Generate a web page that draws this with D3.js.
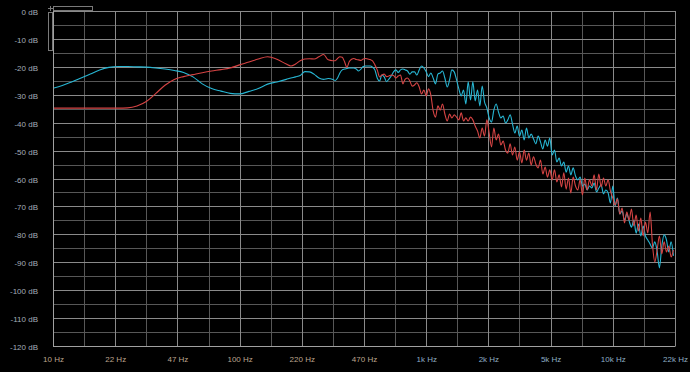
<!DOCTYPE html>
<html>
<head>
<meta charset="utf-8">
<script src="https://cdn.jsdelivr.net/npm/d3@7"></script>
<style>
  html, body { margin: 0; padding: 0; background: #000; }
  svg { display: block; }
  text { font-family: "Liberation Sans", Arial, sans-serif; font-size: 8px; }
</style>
</head>
<body>
<svg id="chart" width="690" height="372"></svg>
<script>
// frequency bins (Hz)
var freqs = [
  10, 11.22, 12.59, 14.13, 15.85, 17.78, 19.95, 22.39, 25.12, 28.18,
  31.62, 35.48, 39.81, 44.67, 50.12, 56.23, 63.10, 70.79, 79.43, 89.13,
  100, 112.2, 125.9, 141.3, 158.5, 177.8,
  188.4, 199.5, 211.3, 223.9, 237.1, 251.2, 266.1, 281.8, 298.5,
  316.2, 325.5, 335.0, 344.7, 354.8, 365.2, 375.8, 386.8, 398.1, 409.7,
  421.7, 434.0, 446.7, 459.7, 473.2, 487.0, 501.2, 515.8, 530.9, 546.4,
  562.3, 578.8, 595.7, 613.1, 631.0, 649.4, 668.3, 687.9, 707.9, 728.6,
  749.9, 771.8, 794.3, 817.5, 841.4, 866.0, 891.3, 917.3, 944.1, 971.6,
  1000, 1029, 1059, 1090, 1122, 1155, 1189, 1223, 1259, 1296,
  1334, 1372, 1413, 1454, 1496, 1540, 1585, 1631, 1679, 1728,
  1778, 1830, 1884, 1939, 1995, 2054, 2113, 2175, 2239, 2304,
  2371, 2441, 2512, 2585, 2661, 2738, 2818, 2901, 2985, 3073,
  3162, 3255, 3350, 3447, 3548, 3652, 3758, 3868, 3981, 4097,
  4217, 4340, 4467, 4597, 4732, 4870, 5012, 5158, 5309, 5464,
  5623, 5788, 5957, 6131, 6310, 6494, 6683, 6879, 7079, 7286,
  7499, 7718, 7943, 8175, 8414, 8660, 8913, 9173, 9441, 9716,
  10000, 10290, 10590, 10900, 11220, 11550, 11890, 12230, 12590, 12960,
  13340, 13720, 14130, 14540, 14960, 15400, 15850, 16310, 16790, 17280,
  17780, 18300, 18840, 19390, 19950, 20540, 21130
];

// red trace (dB)
var redDb = [
  -34.8, -34.8, -34.8, -34.8, -34.8, -34.8, -34.8, -34.8, -34.7, -34.0,
  -32.4, -29.6, -26.6, -24.5, -23.5, -22.8, -22.1, -21.5, -21.0, -20.4,
  -19.3, -18.3, -17.2, -16.4, -17.3, -19.0,
  -19.7, -19.0, -17.8, -17.2, -17.1, -17.2, -16.4, -15.6, -17.5,
  -17.8, -17.8, -17.0, -16.4, -16.6, -18.2, -20.2, -18.2, -17.3, -17.0,
  -17.4, -17.5, -17.7, -17.2, -17.0, -17.2, -17.4, -17.9, -19.3, -21.1,
  -23.6, -22.9, -22.6, -23.5, -23.3, -22.9, -23.1, -24.0, -23.3, -22.9,
  -26.1, -24.4, -24.0, -25.1, -26.9, -26.5, -25.7, -27.2, -29.7, -28.3,
  -30.4, -27.9, -30.1, -35.8, -38.0, -34.0, -35.5, -33.3, -36.9, -39.4,
  -36.9, -38.3, -37.2, -38.0, -39.0, -36.5, -39.4, -38.3, -39.4, -38.0,
  -39.0, -41.2, -43.0, -45.5, -41.9, -44.8, -39.0, -43.7, -48.7, -41.9,
  -46.2, -44.1, -48.0, -46.6, -49.8, -50.9, -47.6, -51.6, -48.7, -53.4,
  -50.5, -54.4, -49.8, -53.4, -50.9, -55.2, -52.2, -54.8, -56.2, -53.4,
  -58.4, -55.9, -59.5, -56.9, -60.5, -56.9, -61.2, -58.7, -63.0, -58.0,
  -63.8, -59.8, -65.2, -59.5, -62.7, -64.1, -60.5, -65.9, -59.8, -64.1,
  -60.5, -62.7, -58.7, -64.1, -58.4, -63.0, -59.8, -62.7, -60.5, -64.5,
  -67.0, -69.5, -67.3, -72.7, -70.6, -75.9, -72.0, -74.9, -70.9, -77.0,
  -73.1, -78.8, -74.2, -80.6, -75.6, -79.5, -72.0, -83.5, -89.9, -85.6,
  -80.6, -87.0, -82.7, -86.3, -84.2, -88.1, -85.6
];

// cyan trace (dB)
var cyanDb = [
  -27.7, -26.7, -25.4, -24.0, -22.6, -21.1, -20.2, -19.9, -19.9, -20.0,
  -20.1, -20.4, -20.8, -21.3, -22.0, -23.6, -26.1, -27.8, -28.7, -29.5,
  -29.7, -28.8, -27.8, -26.2, -25.4, -24.5,
  -24.0, -23.6, -23.1, -21.7, -21.8, -22.7, -24.0, -24.5, -24.2,
  -24.5, -24.9, -24.0, -22.2, -21.1, -20.8, -20.6, -20.4, -20.4, -20.4,
  -20.8, -21.5, -20.8, -19.9, -19.7, -19.7, -19.7, -20.1, -21.1, -24.0,
  -25.1, -22.9, -23.6, -25.3, -24.4, -23.3, -21.8, -21.1, -22.0, -21.1,
  -20.8, -21.1, -21.5, -22.6, -21.8, -21.8, -22.9, -21.1, -19.7, -20.4,
  -21.8, -23.5, -22.2, -24.0, -26.1, -22.6, -22.2, -21.5, -24.0, -27.2,
  -24.7, -21.1, -21.8, -24.7, -27.9, -30.4, -28.3, -33.3, -25.4, -31.9,
  -25.4, -32.2, -28.3, -34.0, -26.9, -32.6, -34.7, -38.3, -39.8, -35.5,
  -33.3, -36.2, -38.3, -37.6, -40.1, -39.0, -37.2, -40.5, -43.7, -41.2,
  -44.8, -42.6, -46.2, -41.9, -45.5, -44.1, -45.8, -47.6, -44.8, -46.9,
  -49.4, -46.2, -48.4, -45.5, -51.6, -49.8, -54.1, -52.7, -55.5, -54.1,
  -57.7, -55.5, -58.7, -56.2, -59.1, -60.5, -59.5, -62.7, -62.0, -64.1,
  -62.7, -63.4, -61.6, -64.8, -63.4, -62.3, -65.5, -64.1, -65.2, -68.8,
  -62.7, -69.8, -67.0, -72.7, -71.6, -74.9, -72.7, -75.2, -77.4, -74.9,
  -79.6, -76.3, -80.6, -77.0, -80.6, -82.0, -83.5, -84.9, -82.7, -86.0,
  -92.0, -84.2, -80.2, -82.0, -86.3, -82.7, -87.7
];

// axis ticks
var dbTicks = [0, -10, -20, -30, -40, -50, -60, -70, -80, -90, -100, -110, -120];
var dbMinor = [-5, -15, -25, -35, -45, -55, -65, -75, -85, -95, -105, -115];
var freqTicks = [10, 21.54, 46.42, 100, 215.4, 464.2, 1000, 2154, 4642, 10000, 21544];
var freqLabels = ["10 Hz", "22 Hz", "47 Hz", "100 Hz", "220 Hz", "470 Hz",
                  "1k Hz", "2k Hz", "5k Hz", "10k Hz", "22k Hz"];
var freqMinor = [14.68, 31.62, 68.13, 146.8, 316.2, 681.3, 1468, 3162, 6813, 14678];

var svg = d3.select("#chart");

var plotLeft = 53, plotRight = 675, plotTop = 11, plotBottom = 346;

var x = d3.scaleLog().domain([10, 21544]).range([plotLeft, plotRight]);
var y = d3.scaleLinear().domain([-120, 0]).range([plotBottom, plotTop]);

svg.append("rect")
  .attr("width", 690).attr("height", 372)
  .attr("fill", "#000");

var grid = svg.append("g").attr("class", "grid");

// minor grid
grid.selectAll("line.hmin")
  .data(dbMinor).enter().append("line")
  .attr("class", "hmin")
  .attr("x1", plotLeft).attr("x2", plotRight)
  .attr("y1", function(d) { return Math.round(y(d)) + 0.5; })
  .attr("y2", function(d) { return Math.round(y(d)) + 0.5; })
  .attr("stroke", "#575757");

grid.selectAll("line.vmin")
  .data(freqMinor).enter().append("line")
  .attr("class", "vmin")
  .attr("y1", plotTop).attr("y2", plotBottom)
  .attr("x1", function(d) { return Math.round(x(d)) + 0.5; })
  .attr("x2", function(d) { return Math.round(x(d)) + 0.5; })
  .attr("stroke", "#575757");

// major grid
grid.selectAll("line.hmaj")
  .data(dbTicks).enter().append("line")
  .attr("class", "hmaj")
  .attr("x1", plotLeft).attr("x2", plotRight)
  .attr("y1", function(d) { return Math.round(y(d)) + 0.5; })
  .attr("y2", function(d) { return Math.round(y(d)) + 0.5; })
  .attr("stroke", "#8a8a8a");

grid.selectAll("line.vmaj")
  .data(freqTicks).enter().append("line")
  .attr("class", "vmaj")
  .attr("y1", plotTop).attr("y2", plotBottom)
  .attr("x1", function(d) { return Math.round(x(d)) + 0.5; })
  .attr("x2", function(d) { return Math.round(x(d)) + 0.5; })
  .attr("stroke", "#8a8a8a");

// axes labels
var yAxis = d3.axisLeft(y)
  .tickValues(dbTicks)
  .tickFormat(function(d) { return d + " dB"; })
  .tickSize(0)
  .tickPadding(15);

svg.append("g")
  .attr("transform", "translate(" + plotLeft + ",1)")
  .call(yAxis)
  .call(function(g) { g.select(".domain").remove(); })
  .selectAll("text")
  .attr("fill", "#a3adb8")
  .style("font-size", "8px");

var xAxis = d3.axisBottom(x)
  .tickValues(freqTicks)
  .tickFormat(function(d, i) { return freqLabels[i]; })
  .tickSize(0)
  .tickPadding(10);

svg.append("g")
  .attr("transform", "translate(0," + plotBottom + ")")
  .call(xAxis)
  .call(function(g) { g.select(".domain").remove(); })
  .selectAll("text")
  .attr("fill", function(d) { return d < 1000 ? "#bda58f" : "#8eaec4"; })
  .style("font-size", "8px");

// traces
svg.append("clipPath").attr("id", "plotclip")
  .append("rect")
  .attr("x", plotLeft).attr("y", plotTop)
  .attr("width", plotRight - plotLeft).attr("height", plotBottom - plotTop);

var line = d3.line()
  .x(function(d) { return x(d[0]); })
  .y(function(d) { return y(d[1]); })
  .curve(d3.curveMonotoneX);

var traces = svg.append("g").attr("clip-path", "url(#plotclip)");

traces.append("path")
  .datum(freqs.map(function(f, i) { return [f, cyanDb[i]]; }))
  .attr("fill", "none")
  .attr("stroke", "#27b6d3")
  .attr("stroke-width", 1.1)
  .attr("d", line);

traces.append("path")
  .datum(freqs.map(function(f, i) { return [f, redDb[i]]; }))
  .attr("fill", "none")
  .attr("stroke", "#d64444")
  .attr("stroke-width", 1.1)
  .attr("d", line);

// frame
svg.append("line")
  .attr("x1", plotLeft + 0.5).attr("x2", plotLeft + 0.5)
  .attr("y1", plotTop).attr("y2", plotBottom + 0.5)
  .attr("stroke", "#a0a0a0");
svg.append("line")
  .attr("x1", plotLeft).attr("x2", plotRight + 0.5)
  .attr("y1", plotBottom + 0.5).attr("y2", plotBottom + 0.5)
  .attr("stroke", "#a0a0a0");

// zoom scroll handles
var handles = svg.append("g")
  .attr("fill", "none")
  .attr("stroke", "#7a7a7a");
handles.append("rect")
  .attr("x", 53.5).attr("y", 6.5).attr("width", 39).attr("height", 4);
handles.append("rect")
  .attr("x", 48.5).attr("y", 12.5).attr("width", 4).attr("height", 38);
handles.append("path")
  .attr("d", "M48,8.5H53M50.5,6V11");
</script>
</body>
</html>
